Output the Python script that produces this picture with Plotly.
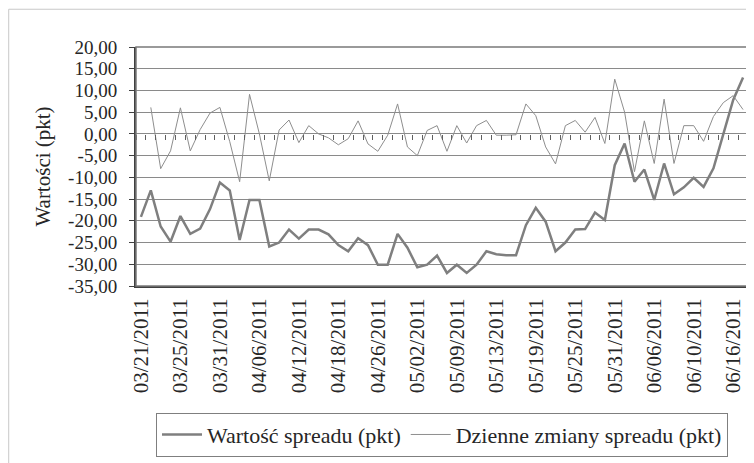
import plotly.graph_objects as go

# ---- data ----
dates = [
    "03/21/2011", "03/22/2011", "03/23/2011", "03/24/2011", "03/25/2011",
    "03/28/2011", "03/29/2011", "03/30/2011", "03/31/2011", "04/01/2011",
    "04/04/2011", "04/05/2011", "04/06/2011", "04/07/2011", "04/08/2011",
    "04/11/2011", "04/12/2011", "04/13/2011", "04/14/2011", "04/15/2011",
    "04/18/2011", "04/19/2011", "04/20/2011", "04/21/2011", "04/26/2011",
    "04/27/2011", "04/28/2011", "04/29/2011", "05/02/2011", "05/04/2011",
    "05/05/2011", "05/06/2011", "05/09/2011", "05/10/2011", "05/11/2011",
    "05/12/2011", "05/13/2011", "05/16/2011", "05/17/2011", "05/18/2011",
    "05/19/2011", "05/20/2011", "05/23/2011", "05/24/2011", "05/25/2011",
    "05/26/2011", "05/27/2011", "05/30/2011", "05/31/2011", "06/01/2011",
    "06/02/2011", "06/03/2011", "06/06/2011", "06/07/2011", "06/08/2011",
    "06/09/2011", "06/10/2011", "06/13/2011", "06/14/2011", "06/15/2011",
    "06/16/2011", "06/17/2011",
]

wartosc_spreadu = [
    -19.1, -13.0, -21.3, -24.8, -18.9, -23.0, -21.8, -17.3, -11.2, -13.0,
    -24.4, -15.2, -15.2, -25.9, -25.0, -22.0, -24.1, -22.0, -22.0, -23.1,
    -25.6, -27.0, -24.0, -25.6, -30.1, -30.1, -23.0, -26.2, -30.7, -30.1,
    -28.0, -32.0, -30.1, -32.0, -30.1, -27.0, -27.7, -27.9, -27.9, -21.0,
    -17.0, -20.2, -27.0, -25.0, -22.0, -21.9, -18.1, -19.8, -7.2, -2.2,
    -11.0, -8.2, -15.2, -6.8, -13.9, -12.3, -10.1, -12.2, -7.9, -0.2,
    7.8, 13.0,
]

dzienne_zmiany = [
    None, 6.1, -8.0, -3.9, 6.0, -3.9, 1.0, 4.8, 6.1, -1.8,
    -11.0, 9.1, 0.0, -10.8, 0.9, 3.2, -2.0, 1.9, 0.0, -0.9,
    -2.5, -1.1, 3.0, -2.3, -4.0, -0.3, 6.9, -3.0, -5.0, 0.8,
    1.9, -4.0, 1.9, -2.1, 1.9, 3.1, -0.3, -0.3, -0.2, 6.9,
    4.2, -3.0, -6.9, 1.9, 3.1, 0.4, 3.8, -2.2, 12.6, 5.0,
    -8.7, 3.0, -6.8, 8.0, -6.8, 1.9, 1.9, -1.7, 4.0, 7.2,
    8.8, 5.6,
]

y_tick_values = [20, 15, 10, 5, 0, -5, -10, -15, -20, -25, -30, -35]
y_tick_labels = ["20,00", "15,00", "10,00", "5,00", "0,00", "-5,00", "-10,00",
                 "-15,00", "-20,00", "-25,00", "-30,00", "-35,00"]

series_names = ["Wartość spreadu (pkt)", "Dzienne zmiany spreadu (pkt)"]
y_title = "Wartości (pkt)"

# ---- figure ----
FONT = "'Liberation Serif', 'Liberation Sans', sans-serif"
TXT = "#262626"
y_min, y_max = min(y_tick_values), max(y_tick_values)
x_tick_vals = dates[::4]

fig = go.Figure()
fig.add_trace(go.Scatter(
    x=dates, y=wartosc_spreadu, name=series_names[0], mode="lines",
    line=dict(color="#7f7f7f", width=2.5), xaxis="x", yaxis="y",
))
fig.add_trace(go.Scatter(
    x=dates, y=dzienne_zmiany, name=series_names[1], mode="lines",
    line=dict(color="#8e8e8e", width=1), xaxis="x2", yaxis="y",
))

cat_range = [-0.5, len(dates) - 0.5]

fig.update_layout(
    width=746, height=455,
    margin=dict(l=128, r=6, t=39, b=174),
    paper_bgcolor="white", plot_bgcolor="white",
    font=dict(family=FONT, size=20, color=TXT),
    showlegend=True,
    legend=dict(
        orientation="h", x=0.5, xanchor="center", y=-0.53, yanchor="top",
        bordercolor="#7f7f7f", borderwidth=1, font=dict(family=FONT, size=22, color=TXT),
        itemwidth=40, tracegroupgap=0,
    ),
    xaxis=dict(
        type="category", categoryorder="array", categoryarray=dates,
        range=cat_range, tickmode="array", tickvals=x_tick_vals, ticktext=x_tick_vals,
        tickangle=-90, tickfont=dict(family=FONT, size=21, color=TXT),
        showgrid=False, zeroline=False, showline=True, linecolor="#404040", linewidth=2,
        ticks="", ticklabelstandoff=2,
    ),
    xaxis2=dict(
        type="category", categoryorder="array", categoryarray=dates,
        range=cat_range, overlaying="x", anchor="free",
        position=(0 - y_min) / (y_max - y_min),
        showticklabels=False, showgrid=False, zeroline=False, showline=False,
        ticks="outside", ticklen=5, tickcolor="#606060", tickwidth=1,
        tickson="boundaries", tickmode="linear", tick0=0, dtick=1,
    ),
    yaxis=dict(
        range=[y_min, y_max], tickmode="array", tickvals=y_tick_values, ticktext=y_tick_labels,
        tickfont=dict(family=FONT, size=19, color=TXT),
        showgrid=True, gridcolor="#8a8a8a", gridwidth=1,
        zeroline=False, showline=True, linecolor="#404040", linewidth=2,
        ticks="outside", ticklen=5, tickcolor="#404040", ticklabelstandoff=8,
        title=dict(text=y_title, font=dict(family=FONT, size=21, color=TXT), standoff=12),
    ),
    shapes=[
        dict(type="rect", xref="x domain", yref="y domain", x0=0, x1=1, y0=0, y1=1,
             line=dict(color="#7a7a7a", width=1.5), fillcolor="rgba(0,0,0,0)", layer="above"),
        dict(type="rect", xref="paper", yref="paper", x0=-0.208, x1=1.008, y0=-0.8, y1=1.158,
             line=dict(color="#c8c8c8", width=1), fillcolor="rgba(0,0,0,0)", layer="below"),
    ],
)

fig.write_html("out.html")
